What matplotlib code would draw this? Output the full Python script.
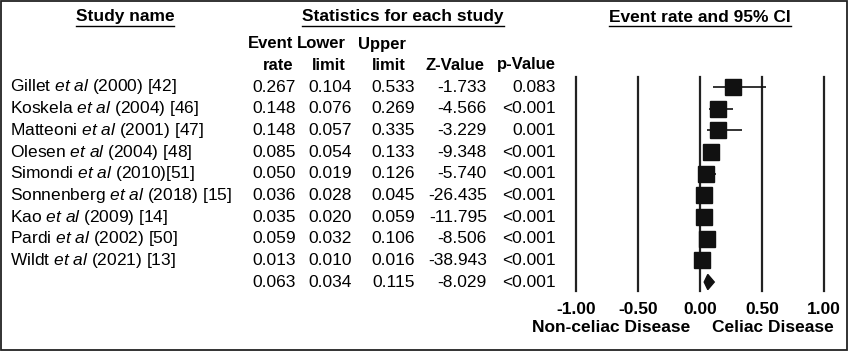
import matplotlib

matplotlib.use("Agg")
import matplotlib.pyplot as plt
from matplotlib.lines import Line2D
from matplotlib.patches import Polygon, Rectangle

plt.rcParams["font.family"] = ["Liberation Sans", "DejaVu Sans"]
plt.rcParams["mathtext.fontset"] = "custom"
plt.rcParams["mathtext.rm"] = "Liberation Sans"
plt.rcParams["mathtext.it"] = "Liberation Sans:italic"

# ---- data ----
authors = ["Gillet", "Koskela", "Matteoni", "Olesen", "Simondi",
           "Sonnenberg", "Kao", "Pardi", "Wildt"]
refs = ["(2000) [42]", "(2004) [46]", "(2001) [47]", "(2004) [48]", "(2010)[51]",
        "(2018) [15]", "(2009) [14]", "(2002) [50]", "(2021) [13]"]
rate = [0.267, 0.148, 0.148, 0.085, 0.050, 0.036, 0.035, 0.059, 0.013]
lower = [0.104, 0.076, 0.057, 0.054, 0.019, 0.028, 0.020, 0.032, 0.010]
upper = [0.533, 0.269, 0.335, 0.133, 0.126, 0.045, 0.059, 0.106, 0.016]
zval = [-1.733, -4.566, -3.229, -9.348, -5.740, -26.435, -11.795, -8.506, -38.943]
pval = ["0.083", "<0.001", "0.001", "<0.001", "<0.001", "<0.001", "<0.001", "<0.001", "<0.001"]
pooled = dict(rate=0.063, lower=0.034, upper=0.115, z=-8.029, p="<0.001")
xticks = [-1.0, -0.5, 0.0, 0.5, 1.0]

W, H = 849, 351
FS = 12.5
fig = plt.figure(figsize=(W / 100, H / 100), dpi=100)


def px(x, y):
    return x / W, 1 - y / H


def ftext(x, y, s, ha="left", fs=FS, **kw):
    return fig.text(*px(x, y), s, ha=ha, va="center", fontsize=fs, **kw)


# border
fig.add_artist(Rectangle((0.001, 0.002), 0.997, 0.995, transform=fig.transFigure,
                         fill=False, lw=1.3, ec="#222222"))

# headers
heads = [ftext(125, 17, "Study name", ha="center", fontweight="bold"),
         ftext(403, 17, "Statistics for each study", ha="center", fontweight="bold"),
         ftext(700, 17, "Event rate and 95% CI", ha="center", fontweight="bold")]

row0, dy = 87, 21.67
col_hdr = [(293, "Event", "rate"), (346, "Lower", "limit"), (406, "Upper", "limit"),
           (485, "", "Z-Value"), (556, "", "p-Value")]
for x, top, bot in col_hdr:
    if top:
        ftext(x, 44, top, ha="right", fs=12, fontweight="bold")
    ftext(x, 65, bot, ha="right", fs=12, fontweight="bold")

# table rows
for i in range(len(authors)):
    y = row0 + i * dy
    ftext(10, y, authors[i] + r" $\mathit{et\ al}$ " + refs[i])
    ftext(296, y, f"{rate[i]:.3f}", ha="right")
    ftext(352, y, f"{lower[i]:.3f}", ha="right")
    ftext(415, y, f"{upper[i]:.3f}", ha="right")
    ftext(487, y, f"{zval[i]:.3f}", ha="right")
    ftext(556, y, pval[i], ha="right")
y = row0 + len(authors) * dy
ftext(296, y, f"{pooled['rate']:.3f}", ha="right")
ftext(352, y, f"{pooled['lower']:.3f}", ha="right")
ftext(415, y, f"{pooled['upper']:.3f}", ha="right")
ftext(487, y, f"{pooled['z']:.3f}", ha="right")
ftext(556, y, pooled["p"], ha="right")

# forest plot axes
x0, x1, ytop, ybot = 576, 824, 77, 291
nrow = len(authors) + 1
l, b = px(x0, ybot)
ax = fig.add_axes([l, b, (x1 - x0) / W, (ybot - ytop) / H])
ax.set_xlim(-1, 1)
ax.set_ylim(nrow - 1 + (ybot - row0 - (nrow - 1) * dy) / dy, -(row0 - ytop) / dy)
for s in ax.spines.values():
    s.set_visible(False)
ax.set_yticks([])
ax.set_xticks(xticks, [f"{t:.2f}" for t in xticks], fontsize=FS, fontweight="bold")
ax.tick_params(axis="x", length=0, pad=8)
for t in xticks:
    ax.axvline(t, color="#222222", lw=1.6, clip_on=False)

rows = list(range(len(authors)))
ax.hlines(rows, lower, upper, color="#111111", lw=1.2)
ax.plot(rate, rows, "s", color="#111111", ms=12)
yd = len(authors)
ax.add_patch(Polygon([(pooled["lower"], yd), (pooled["rate"], yd - 0.35),
                      (pooled["upper"], yd), (pooled["rate"], yd + 0.35)],
                     closed=True, color="#111111"))

ftext(611, 328, "Non-celiac Disease", ha="center", fontweight="bold")
ftext(773, 328, "Celiac Disease", ha="center", fontweight="bold")

# underline the headers
fig.canvas.draw()
r = fig.canvas.get_renderer()
for t in heads:
    bb = t.get_window_extent(r)
    yy = bb.y0 - 1
    fig.add_artist(Line2D([bb.x0 / W, bb.x1 / W], [yy / H, yy / H],
                          transform=fig.transFigure, color="black", lw=1.0))

fig.savefig("out.png", dpi=100)
